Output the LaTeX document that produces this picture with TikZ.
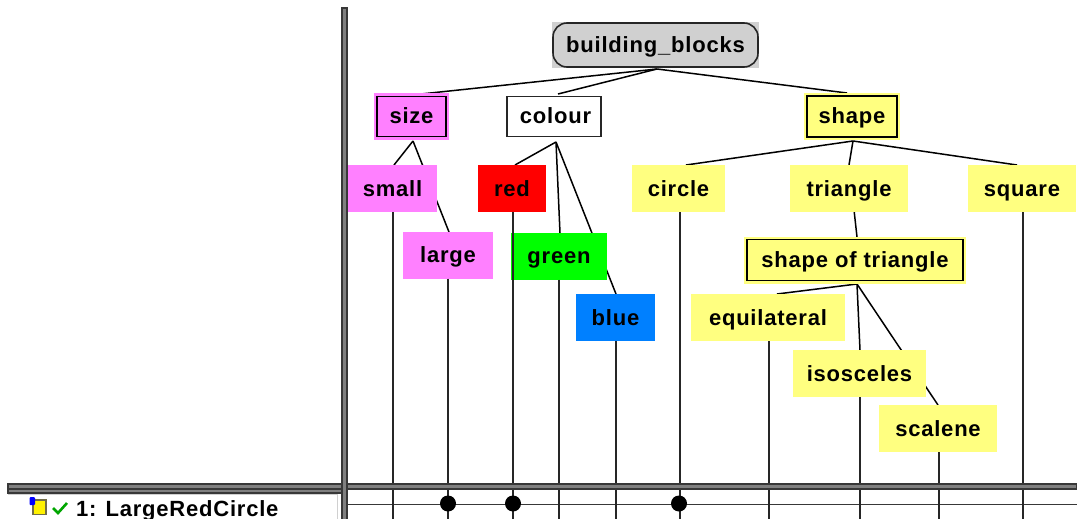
\documentclass[tikz,border=0pt]{standalone}
\usepackage{fontspec}
\setmainfont{Liberation Sans}
\newfontfamily\labfont[LetterSpace=3.6]{Liberation Sans}
\definecolor{hpink}{HTML}{FF80FF}
\definecolor{hyellow}{HTML}{FFFF80}
\definecolor{hgray}{HTML}{D0D0D0}
\definecolor{hblue}{HTML}{0080FF}
\definecolor{hband}{HTML}{808080}
\definecolor{hdark}{HTML}{383838}
\tikzset{
  box/.style={inner sep=0pt,outer sep=0pt,font=\labfont\fontsize{22}{24}\selectfont\bfseries,text height=18pt,text depth=3pt},
  plain/.style={box},
  halo/.style={box,draw=black,line width=1.8pt,preaction={draw=#1,line width=6pt}},
  link/.style={draw=black,line width=1.5pt},
  stem/.style={draw=black!85,line width=1.3pt},
  band/.style={draw=hdark,line width=2pt,fill=hband},
  dotmark/.style={circle,fill=black,inner sep=0pt,minimum size=16pt}
}
\begin{document}
\begin{tikzpicture}[x=1pt,y=-1pt]
\useasboundingbox (0,0) rectangle (1077,519);
\fill[white] (0,0) rectangle (1077,519);
\coordinate (rowL) at (348,504.5);
\coordinate (rowR) at (1077,504.5);
% row lines
\draw[draw=hdark,line width=1.8pt] (rowL) -- (rowR);
% tree links (drawn below the nodes)
\coordinate (rootb) at (657,69);
\coordinate (sizeb) at (413,141);
\coordinate (colourb) at (556,142);
\coordinate (shapeb) at (853,141);
\coordinate (sotb) at (857,284);
\coordinate (sizet) at (421,94);
\coordinate (colourt) at (558,94);
\coordinate (shapet) at (847,93);
\coordinate (smallt) at (394,165);
\coordinate (larget) at (449,232);
\coordinate (redt) at (515,165);
\coordinate (greent) at (560,233);
\coordinate (bluet) at (616,294);
\coordinate (circlet) at (686,165);
\coordinate (trianglet) at (849,165);
\coordinate (squaret) at (1017,165);
\coordinate (sott) at (857,237);
\coordinate (equit) at (777,294);
\coordinate (isot) at (860,350);
\coordinate (scalt) at (938,405);
\draw[link] (rootb) -- (sizet);
\draw[link] (rootb) -- (colourt);
\draw[link] (rootb) -- (shapet);
\draw[link] (sizeb) -- (smallt);
\draw[link] (sizeb) -- (larget);
\draw[link] (colourb) -- (redt);
\draw[link] (colourb) -- (greent);
\draw[link] (colourb) -- (bluet);
\draw[link] (shapeb) -- (circlet);
\draw[link] (shapeb) -- (trianglet);
\draw[link] (shapeb) -- (squaret);
\draw[link] (trianglet) -- (sott);
\draw[link] (sotb) -- (equit);
\draw[link] (sotb) -- (isot);
\draw[link] (sotb) -- (scalt);
% nodes
\node[box,fill=hgray,minimum width=207pt,minimum height=46pt] (rootbg) at (655.5,45) {};
\node[box,draw=black!85,line width=1.6pt,fill=hgray,rounded corners=14pt,minimum width=205pt,minimum height=44pt] (root) at (655.5,45) {building\_blocks};
\node[halo=hpink,fill=hpink,minimum width=69pt,minimum height=40pt] (size) at (411.5,116.5) {size};
\node[box,draw=black!85,line width=1.5pt,fill=white,minimum width=94pt,minimum height=40pt] (colour) at (554,116.5) {\hspace{3pt}colour};
\node[halo=hyellow,fill=hyellow,minimum width=90pt,minimum height=41pt] (shape) at (852,116.5) {shape};
\node[plain,fill=hpink,minimum width=89pt,minimum height=47pt] (small) at (392.5,188.5) {small};
\node[plain,fill=hpink,minimum width=90pt,minimum height=47pt] (large) at (448,255) {large};
\node[plain,fill=red,minimum width=68pt,minimum height=47pt] (redn) at (512,188.5) {red};
\node[plain,fill=green,minimum width=96pt,minimum height=47pt] (greenn) at (559,256) {green};
\node[plain,fill=hblue,minimum width=79pt,minimum height=47pt] (bluen) at (615.5,317.5) {blue};
\node[plain,fill=hyellow,minimum width=93pt,minimum height=47pt] (circle) at (678.5,188.5) {circle};
\node[plain,fill=hyellow,minimum width=118pt,minimum height=47pt] (triangle) at (849,188.5) {triangle};
\node[plain,fill=hyellow,minimum width=108pt,minimum height=47pt] (square) at (1022,188.5) {square};
\node[halo=hyellow,fill=hyellow,minimum width=216pt,minimum height=41pt] (sot) at (855,260) {shape of triangle};
\node[plain,fill=hyellow,minimum width=154pt,minimum height=47pt] (equi) at (768,317.5) {equilateral};
\node[plain,fill=hyellow,minimum width=133pt,minimum height=47pt] (iso) at (859.5,373.5) {isosceles};
\node[plain,fill=hyellow,minimum width=118pt,minimum height=47pt] (scal) at (938,428.5) {scalene};
% stems
\foreach \n/\x in {small/393,large/448,redn/513,greenn/559,bluen/616,circle/680,equi/769,iso/860,scal/939,square/1023}{
  \draw[stem] (\n.south -| \x,0) -- (\x,519);
}
% dividers
\draw[hgray,line width=1pt] (8,494.5) -- (337.5,494.5) -- (337.5,519);
\draw[band] (8,488.5) rectangle (342,493);
\draw[band] (8,483.5) rectangle (1077,488.5);
\draw[band] (341.8,8) rectangle (347.2,521);
% dots
\node[dotmark] (d1) at (448,503.5) {};
\node[dotmark] (d2) at (513,503.5) {};
\node[dotmark] (d3) at (679,503.5) {};
% row label
\draw[black!55!yellow!80!black,line width=1.4pt,fill=yellow] (33,500) rectangle (46,514.5);
\fill[blue,rounded corners=1pt] (29.5,497) rectangle (35,505);
\draw[green!65!black,line width=2.6pt] (53,508) -- (58,513) -- (67,503);
\node[box,anchor=west] (rowlabel) at (76,508.5) {1: LargeRedCircle};
\end{tikzpicture}
\end{document}
